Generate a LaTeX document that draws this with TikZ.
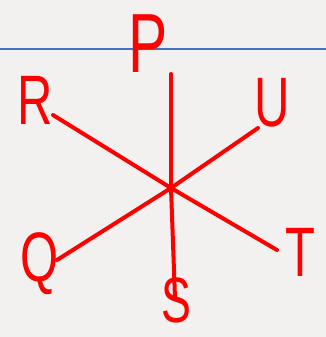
\documentclass[tikz,border=0pt]{standalone}
\usepackage{fontspec}
\setsansfont{Liberation Sans}
\definecolor{paper}{HTML}{F2F1EF}
\definecolor{rule}{HTML}{4472C4}
\definecolor{ink}{HTML}{FF0000}
\begin{document}
\begin{tikzpicture}[x=1pt,y=-1pt,every node/.style={font=\sffamily\fontsize{70}{70}\selectfont,text=ink,inner sep=0pt,xscale=0.7},stroke/.style={draw=ink,line width=4pt,line cap=round}]
\fill[paper] (0,0) rectangle (326,337);
\useasboundingbox (0,0) rectangle (326,337);
\draw[rule,line width=1.5pt] (0,49)--(326,49);
\coordinate (O) at (171,188);
\node[font=\sffamily\fontsize{84}{84}\selectfont] (P) at (148,44){P};
\node (R) at (35,100){R};
\node (U) at (272,103){U};
\node (Q) at (40,264){Q};
\node (T) at (300,252){T};
\node[font=\sffamily\fontsize{64}{64}\selectfont] (S) at (176,300){S};
% line ends
\coordinate (p) at (171,74);
\coordinate (s) at (175,298);
\coordinate (r) at (53,115);
\coordinate (u) at (258,128);
\coordinate (q) at (57,260);
\coordinate (t) at (277,250);
\foreach \e in {p,s,r,u,q,t}{\draw[stroke] (O)--(\e);}
\end{tikzpicture}
\end{document}
